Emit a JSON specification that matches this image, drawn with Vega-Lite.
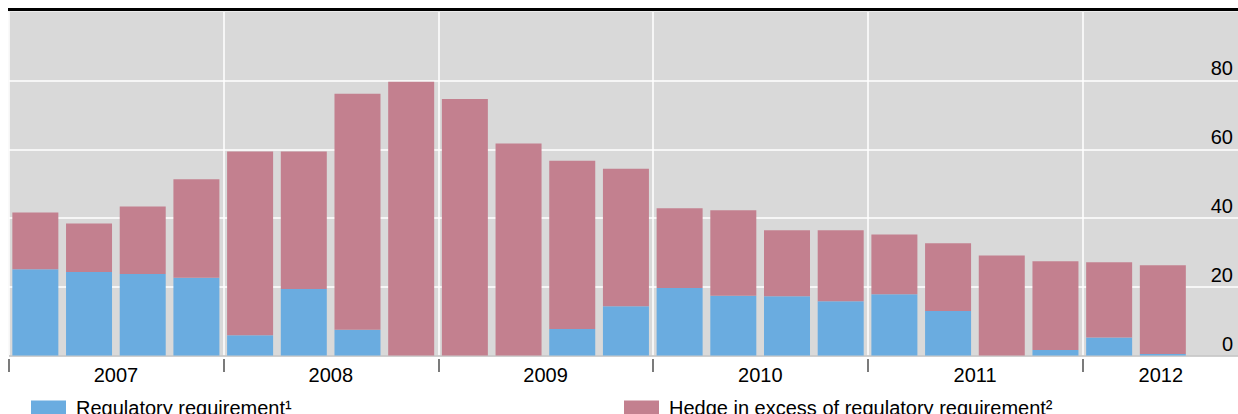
{
  "$schema": "https://vega.github.io/schema/vega-lite/v6.json",
  "width": 1229.5,
  "height": 344,
  "autosize": {"type": "none"},
  "padding": {"left": 8.5, "top": 11.5, "right": 0, "bottom": 58.5},
  "background": "white",
  "config": {"font": "Liberation Sans", "view": {"stroke": null, "fill": "#d9d9d9"}},
  "data": {"values": [
    {"quarter": "2007Q1", "t": 2007.125, "series": "Regulatory requirement¹", "value": 25.1},
    {"quarter": "2007Q1", "t": 2007.125, "series": "Hedge in excess of regulatory requirement²", "value": 16.5},
    {"quarter": "2007Q2", "t": 2007.375, "series": "Regulatory requirement¹", "value": 24.3},
    {"quarter": "2007Q2", "t": 2007.375, "series": "Hedge in excess of regulatory requirement²", "value": 14.1},
    {"quarter": "2007Q3", "t": 2007.625, "series": "Regulatory requirement¹", "value": 23.7},
    {"quarter": "2007Q3", "t": 2007.625, "series": "Hedge in excess of regulatory requirement²", "value": 19.6},
    {"quarter": "2007Q4", "t": 2007.875, "series": "Regulatory requirement¹", "value": 22.6},
    {"quarter": "2007Q4", "t": 2007.875, "series": "Hedge in excess of regulatory requirement²", "value": 28.6},
    {"quarter": "2008Q1", "t": 2008.125, "series": "Regulatory requirement¹", "value": 5.9},
    {"quarter": "2008Q1", "t": 2008.125, "series": "Hedge in excess of regulatory requirement²", "value": 53.4},
    {"quarter": "2008Q2", "t": 2008.375, "series": "Regulatory requirement¹", "value": 19.3},
    {"quarter": "2008Q2", "t": 2008.375, "series": "Hedge in excess of regulatory requirement²", "value": 40.0},
    {"quarter": "2008Q3", "t": 2008.625, "series": "Regulatory requirement¹", "value": 7.5},
    {"quarter": "2008Q3", "t": 2008.625, "series": "Hedge in excess of regulatory requirement²", "value": 68.6},
    {"quarter": "2008Q4", "t": 2008.875, "series": "Regulatory requirement¹", "value": 0},
    {"quarter": "2008Q4", "t": 2008.875, "series": "Hedge in excess of regulatory requirement²", "value": 79.6},
    {"quarter": "2009Q1", "t": 2009.125, "series": "Regulatory requirement¹", "value": 0},
    {"quarter": "2009Q1", "t": 2009.125, "series": "Hedge in excess of regulatory requirement²", "value": 74.6},
    {"quarter": "2009Q2", "t": 2009.375, "series": "Regulatory requirement¹", "value": 0},
    {"quarter": "2009Q2", "t": 2009.375, "series": "Hedge in excess of regulatory requirement²", "value": 61.6},
    {"quarter": "2009Q3", "t": 2009.625, "series": "Regulatory requirement¹", "value": 7.7},
    {"quarter": "2009Q3", "t": 2009.625, "series": "Hedge in excess of regulatory requirement²", "value": 48.9},
    {"quarter": "2009Q4", "t": 2009.875, "series": "Regulatory requirement¹", "value": 14.3},
    {"quarter": "2009Q4", "t": 2009.875, "series": "Hedge in excess of regulatory requirement²", "value": 40.0},
    {"quarter": "2010Q1", "t": 2010.125, "series": "Regulatory requirement¹", "value": 19.6},
    {"quarter": "2010Q1", "t": 2010.125, "series": "Hedge in excess of regulatory requirement²", "value": 23.2},
    {"quarter": "2010Q2", "t": 2010.375, "series": "Regulatory requirement¹", "value": 17.4},
    {"quarter": "2010Q2", "t": 2010.375, "series": "Hedge in excess of regulatory requirement²", "value": 24.8},
    {"quarter": "2010Q3", "t": 2010.625, "series": "Regulatory requirement¹", "value": 17.2},
    {"quarter": "2010Q3", "t": 2010.625, "series": "Hedge in excess of regulatory requirement²", "value": 19.2},
    {"quarter": "2010Q4", "t": 2010.875, "series": "Regulatory requirement¹", "value": 15.8},
    {"quarter": "2010Q4", "t": 2010.875, "series": "Hedge in excess of regulatory requirement²", "value": 20.6},
    {"quarter": "2011Q1", "t": 2011.125, "series": "Regulatory requirement¹", "value": 17.8},
    {"quarter": "2011Q1", "t": 2011.125, "series": "Hedge in excess of regulatory requirement²", "value": 17.4},
    {"quarter": "2011Q2", "t": 2011.375, "series": "Regulatory requirement¹", "value": 12.9},
    {"quarter": "2011Q2", "t": 2011.375, "series": "Hedge in excess of regulatory requirement²", "value": 19.7},
    {"quarter": "2011Q3", "t": 2011.625, "series": "Regulatory requirement¹", "value": 0},
    {"quarter": "2011Q3", "t": 2011.625, "series": "Hedge in excess of regulatory requirement²", "value": 29.1},
    {"quarter": "2011Q4", "t": 2011.875, "series": "Regulatory requirement¹", "value": 1.6},
    {"quarter": "2011Q4", "t": 2011.875, "series": "Hedge in excess of regulatory requirement²", "value": 25.8},
    {"quarter": "2012Q1", "t": 2012.125, "series": "Regulatory requirement¹", "value": 5.2},
    {"quarter": "2012Q1", "t": 2012.125, "series": "Hedge in excess of regulatory requirement²", "value": 21.9},
    {"quarter": "2012Q2", "t": 2012.375, "series": "Regulatory requirement¹", "value": 0.4},
    {"quarter": "2012Q2", "t": 2012.375, "series": "Hedge in excess of regulatory requirement²", "value": 25.8}
  ]},
  "layer": [
    {
      "mark": {"type": "bar", "width": 46},
      "encoding": {
        "x": {
          "field": "t", "type": "quantitative",
          "scale": {"domain": [2007, 2012.725], "nice": false, "zero": false, "padding": 0},
          "axis": {
            "values": [2007, 2008, 2009, 2010, 2011, 2012],
            "format": "d", "title": null,
            "grid": true, "gridColor": "white", "gridWidth": 1.5,
            "domain": false, "offset": 3,
            "tickSize": 13, "tickColor": "#222222", "tickWidth": 1.2,
            "labelFontSize": 20, "labelColor": "black",
            "labelBaseline": "alphabetic", "labelPadding": 10, "labelAlign": "center",
            "labelOffset": {"condition": {"test": "datum.value === 2012", "value": 78}, "value": 107},
            "labelFlush": false, "labelOverlap": false
          }
        },
        "y": {
          "field": "value", "type": "quantitative", "stack": "zero",
          "scale": {"domain": [0, 100], "nice": false},
          "axis": {
            "orient": "right", "values": [0, 20, 40, 60, 80], "title": null,
            "grid": true,
            "gridColor": {"condition": {"test": "datum.value === 0", "value": "#bfbfbf"}, "value": "white"},
            "gridWidth": 1.5, "domain": false, "ticks": false,
            "labelAlign": "right", "labelPadding": -5.5, "labelBaseline": "alphabetic", "labelOffset": -5.5,
            "labelFontSize": 20, "labelColor": "black"
          }
        },
        "color": {
          "field": "series", "type": "nominal",
          "scale": {
            "domain": ["Regulatory requirement¹", "Hedge in excess of regulatory requirement²"],
            "range": ["#6aace0", "#c3808f"]
          },
          "legend": {
            "orient": "none", "legendX": 22.5, "legendY": 379.3,
            "direction": "horizontal", "columns": 2, "columnPadding": 332,
            "title": null, "padding": 0,
            "symbolType": "M-1,-0.457H1V0.457H-1Z", "symbolSize": 1225,
            "symbolStrokeWidth": 0, "symbolOpacity": 1,
            "labelFontSize": 20, "labelColor": "black", "labelOffset": 10, "labelLimit": 600,
            "labelBaseline": "middle"
          }
        },
        "order": {"field": "series", "sort": "descending"}
      }
    },
    {
      "mark": {"type": "rule", "color": "black", "strokeWidth": 1.5, "yOffset": -2},
      "encoding": {"y": {"datum": 100}}
    }
  ]
}
